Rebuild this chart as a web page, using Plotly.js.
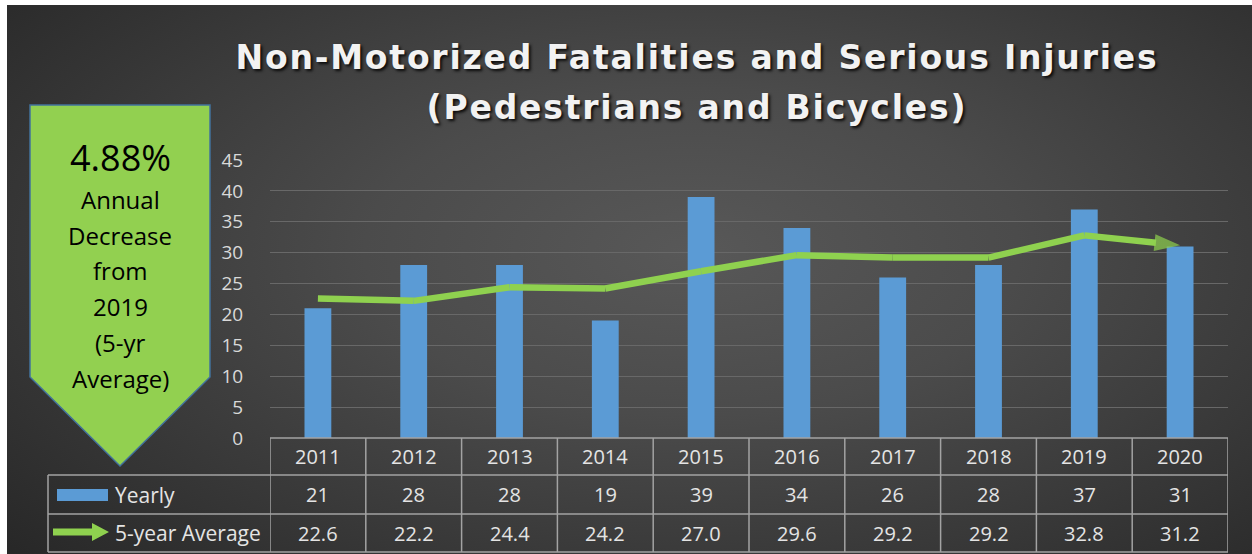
<!DOCTYPE html>
<html>
<head>
<meta charset="utf-8">
<script src="https://cdn.plot.ly/plotly-3.0.1.min.js"></script>
<style>
  html, body { margin: 0; padding: 0; background: #ffffff; width: 1252px; height: 554px; overflow: hidden; }
  #bg { position: absolute; left: 7px; top: 5px; width: 1245px; height: 549px;
        background: radial-gradient(ellipse 75% 85% at 55% 45%, #585858 0%, #4b4b4b 35%, #3a3a3a 65%, #262626 100%); }
  #chart { position: absolute; left: 0; top: 0; width: 1252px; height: 554px; }
  #chart .gtitle, #chart .annotation.title2 text { letter-spacing: 1.8px; }
</style>
</head>
<body>
<div id="bg"></div>
<div id="chart"></div>
<script>
// ---- data ----
const years = ['2011','2012','2013','2014','2015','2016','2017','2018','2019','2020'];
const yearly = [21, 28, 28, 19, 39, 34, 26, 28, 37, 31];
const fiveYearAvg = [22.6, 22.2, 24.4, 24.2, 27.0, 29.6, 29.2, 29.2, 32.8, 31.2];
const yTickVals = [0, 5, 10, 15, 20, 25, 30, 35, 40, 45];
const seriesNames = ['Yearly', '5-year Average'];
const titleLines = ['Non-Motorized Fatalities and Serious Injuries', '(Pedestrians and Bicycles)'];
const calloutLines = ['4.88%', 'Annual', 'Decrease', 'from', '2019', '(5-yr', 'Average)'];

// ---- geometry helpers (page pixels -> paper coords) ----
const W = 1252, H = 554;
const M = { l: 270, r: 24, t: 160, b: 116 };
const PW = W - M.l - M.r, PH = H - M.t - M.b;
const xp = px => (px - M.l) / PW;
const yp = py => (H - M.b - py) / PH;

const BLUE = '#5b9bd5';
const GREEN = '#8fd14f';
const TABLE_LINE = '#a3a3a3';
const TXT = '#e4e4e4';
const FONT = 'Open Sans, DejaVu Sans, sans-serif';
const TITLE_FONT = { family: 'DejaVu Sans, sans-serif', size: 33, weight: 'bold', color: '#f2f2f2', shadow: '2px 2px 3px rgba(0,0,0,0.85)' };

const traces = [
  {
    type: 'bar', name: seriesNames[0], x: years, y: yearly,
    marker: { color: BLUE, line: { width: 0 } },
    hoverinfo: 'x+y'
  },
  {
    type: 'scatter', mode: 'lines+markers', name: seriesNames[1], x: years, y: fiveYearAvg,
    line: { color: GREEN, width: 6.5 },
    marker: {
      color: GREEN, size: years.map((_, i) => i === years.length - 1 ? 27 : 0),
      symbol: years.map((_, i) => i === years.length - 1 ? 'arrow' : 'circle'),
      angleref: 'previous', line: { width: 0 }
    },
    cliponaxis: false
  }
];

const shapes = [];
const annotations = [];

// Table rows (page pixel y)
const rowTop = 438, rowH1 = 475, rowH2 = 514, rowBot = 552, legendLeft = 48;
const lineStyle = { color: TABLE_LINE, width: 1.5 };
shapes.push({ type: 'line', xref: 'paper', yref: 'paper', x0: 0, x1: 1, y0: yp(rowTop), y1: yp(rowTop), line: lineStyle });
[rowH1, rowH2, rowBot].forEach(py => {
  shapes.push({ type: 'line', xref: 'paper', yref: 'paper', x0: xp(legendLeft), x1: 1, y0: yp(py), y1: yp(py), line: lineStyle });
});
shapes.push({ type: 'line', xref: 'paper', yref: 'paper', x0: xp(legendLeft), x1: xp(legendLeft), y0: yp(rowH1), y1: yp(rowBot), line: lineStyle });
for (let i = 0; i <= years.length; i++) {
  shapes.push({ type: 'line', xref: 'x', yref: 'paper', x0: i - 0.5, x1: i - 0.5, y0: yp(rowTop), y1: yp(rowBot), line: lineStyle });
}
// table cells: column centres come from the category axis
const colX = i => (i + 0.5) / years.length;   // paper x of category i centre (range is [-0.5, n-0.5])
const cellFont = { family: FONT, size: 20, color: TXT };
years.forEach((yr, i) => {
  annotations.push({ xref: 'paper', yref: 'paper', x: colX(i), y: yp((rowTop + rowH1) / 2), text: yr, showarrow: false, font: cellFont, xanchor: 'center', yanchor: 'middle' });
  annotations.push({ xref: 'paper', yref: 'paper', x: colX(i), y: yp((rowH1 + rowH2) / 2), text: String(yearly[i]), showarrow: false, font: cellFont, xanchor: 'center', yanchor: 'middle' });
  annotations.push({ xref: 'paper', yref: 'paper', x: colX(i), y: yp((rowH2 + rowBot) / 2), text: fiveYearAvg[i].toFixed(1), showarrow: false, font: cellFont, xanchor: 'center', yanchor: 'middle' });
});
// legend keys
shapes.push({ type: 'rect', xref: 'paper', yref: 'paper', x0: xp(57), x1: xp(108), y0: yp(501), y1: yp(489), fillcolor: BLUE, line: { width: 0 } });
{
  const cy = 532;
  const pts = [[53, cy - 3.5], [92, cy - 3.5], [92, cy - 9], [109, cy], [92, cy + 9], [92, cy + 3.5], [53, cy + 3.5]];
  const path = 'M ' + pts.map(p => xp(p[0]) + ',' + yp(p[1])).join(' L ') + ' Z';
  shapes.push({ type: 'path', xref: 'paper', yref: 'paper', path: path, fillcolor: GREEN, line: { width: 0 } });
}
annotations.push({ xref: 'paper', yref: 'paper', x: xp(113), y: yp((rowH1 + rowH2) / 2), text: seriesNames[0], showarrow: false, xanchor: 'left', yanchor: 'middle', font: { family: FONT, size: 21, color: TXT } });
annotations.push({ xref: 'paper', yref: 'paper', x: xp(113), y: yp((rowH2 + rowBot) / 2), text: seriesNames[1], showarrow: false, xanchor: 'left', yanchor: 'middle', font: { family: FONT, size: 21, color: TXT } });

// callout pentagon arrow
{
  const pts = [[30, 105], [210, 105], [210, 377], [120, 466], [30, 377]];
  const path = 'M ' + pts.map(p => xp(p[0]) + ',' + yp(p[1])).join(' L ') + ' Z';
  shapes.push({ type: 'path', xref: 'paper', yref: 'paper', path: path, fillcolor: '#92d050', line: { color: '#41719c', width: 1.5 }, layer: 'below' });
}
const calloutY = [157, 199, 235, 270, 306, 342, 378];
calloutLines.forEach((t, i) => {
  annotations.push({ xref: 'paper', yref: 'paper', x: xp(120), y: yp(calloutY[i]), text: t, showarrow: false, xanchor: 'center', yanchor: 'middle', font: { family: FONT, size: i === 0 ? 36 : 24, color: '#000000' } });
});

// second title line
annotations.push({ xref: 'paper', yref: 'paper', x: xp(697), y: yp(107), text: titleLines[1], showarrow: false, xanchor: 'center', yanchor: 'middle', font: TITLE_FONT, name: 'title2' });

const layout = {
  width: W, height: H,
  margin: M,
  paper_bgcolor: 'rgba(0,0,0,0)',
  plot_bgcolor: 'rgba(0,0,0,0)',
  showlegend: false,
  bargap: 0.72,
  title: {
    text: titleLines[0],
    xref: 'container', x: 697 / W, xanchor: 'center',
    yref: 'container', y: 1 - 57 / H, yanchor: 'middle',
    font: TITLE_FONT
  },
  xaxis: {
    type: 'category', range: [-0.5, years.length - 0.5],
    showticklabels: false, showgrid: false, zeroline: false, showline: false, ticks: ''
  },
  yaxis: {
    range: [0, 45], tickvals: yTickVals, ticktext: yTickVals.map(String),
    showgrid: true, gridcolor: '#686868', gridwidth: 1, zeroline: false, showline: false,
    ticks: 'outside', ticklen: 22, tickcolor: 'rgba(0,0,0,0)',
    tickfont: { family: FONT, size: 19, color: '#d9d9d9' }
  },
  shapes: shapes,
  annotations: annotations
};

Plotly.newPlot('chart', traces, layout, { displayModeBar: false, staticPlot: true }).then(() => {
  // letter-spacing on the second title line as on the first
  const anns = document.querySelectorAll('#chart .annotation');
  anns.forEach(a => {
    const t = a.querySelector('text');
    if (t && t.textContent === titleLines[1]) t.style.letterSpacing = '1.8px';
  });
});
</script>
</body>
</html>
